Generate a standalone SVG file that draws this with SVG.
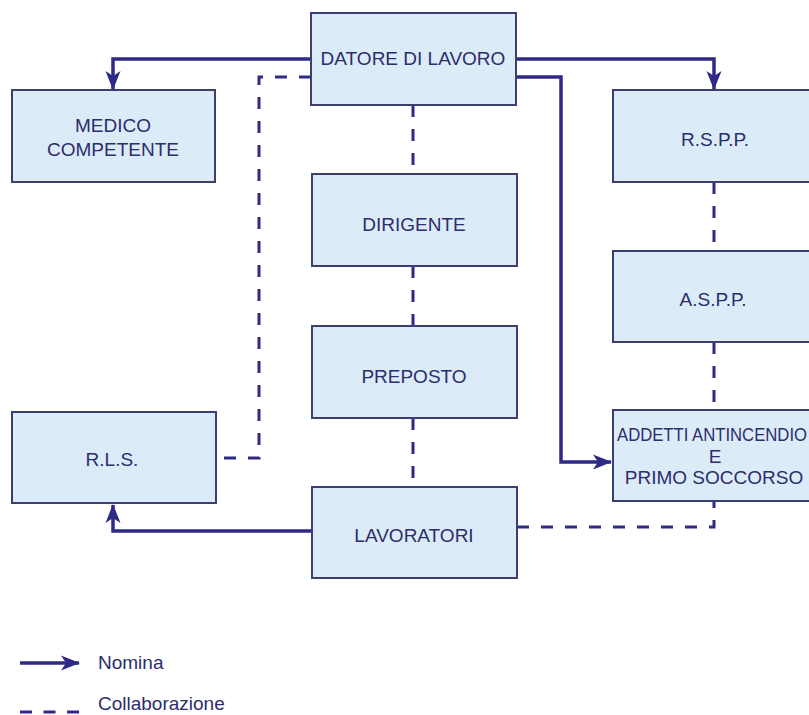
<svg xmlns="http://www.w3.org/2000/svg" width="809" height="715" viewBox="0 0 809 715">
<style>
.box{fill:#dcebf8;stroke:#3d3f70;stroke-width:2}
.lbl{font-family:"Liberation Sans",Arial,sans-serif;font-size:19px;fill:#2c2d6c;text-anchor:middle}
.sol{fill:none;stroke:#2e2a86;stroke-width:3.5}
.dash{fill:none;stroke:#2e2a86;stroke-width:3;stroke-dasharray:12 12}
</style>
<defs>
<marker id="arr" markerUnits="userSpaceOnUse" markerWidth="24" markerHeight="20" viewBox="-20 -10 22 20" refX="0" refY="0" orient="auto">
<path d="M1,0 L-18,-7.5 L-13,0 L-18,7.5 Z" fill="#2e2a86"/>
</marker>
</defs>
<rect width="809" height="715" fill="#ffffff"/>
<g id="connectors">
<polyline class="sol" points="311,59 113,59 113,89" marker-end="url(#arr)"/>
<polyline class="sol" points="516,59 714,59 714,89" marker-end="url(#arr)"/>
<polyline class="sol" points="516,77 561,77 561,462 611,462" marker-end="url(#arr)"/>
<polyline class="sol" points="312,531 113,531 113,505" marker-end="url(#arr)"/>
<polyline class="dash" points="311,77 259,77 259,458 216,458"/>
<line class="dash" x1="413" y1="105" x2="413" y2="174"/>
<line class="dash" x1="413" y1="266" x2="413" y2="326"/>
<line class="dash" x1="413" y1="418" x2="413" y2="487"/>
<line class="dash" x1="714" y1="182" x2="714" y2="251"/>
<line class="dash" x1="714" y1="342" x2="714" y2="410"/>
<polyline class="dash" points="517,527 714,527 714,501"/>
</g>
<g id="datore"><rect class="box" x="311" y="13" width="205" height="92"/><text class="lbl" x="413" y="65">DATORE DI LAVORO</text></g>
<g id="medico"><rect class="box" x="12" y="90" width="203" height="92"/><text class="lbl" x="113" y="132">MEDICO</text><text class="lbl" x="113" y="156">COMPETENTE</text></g>
<g id="rspp"><rect class="box" x="613" y="90" width="200" height="92"/><text class="lbl" x="715" y="146">R.S.P.P.</text></g>
<g id="dirigente"><rect class="box" x="312" y="174" width="205" height="92"/><text class="lbl" x="414" y="231">DIRIGENTE</text></g>
<g id="aspp"><rect class="box" x="613" y="251" width="200" height="91"/><text class="lbl" x="713" y="306">A.S.P.P.</text></g>
<g id="preposto"><rect class="box" x="312" y="326" width="205" height="92"/><text class="lbl" x="414" y="383">PREPOSTO</text></g>
<g id="rls"><rect class="box" x="12" y="412" width="204" height="91"/><text class="lbl" x="112" y="466">R.L.S.</text></g>
<g id="addetti"><rect class="box" x="613" y="410" width="200" height="91"/><text class="lbl" x="617" y="441" style="text-anchor:start" textLength="190" lengthAdjust="spacingAndGlyphs">ADDETTI ANTINCENDIO</text><text class="lbl" x="715" y="463">E</text><text class="lbl" x="714" y="484">PRIMO SOCCORSO</text></g>
<g id="lavoratori"><rect class="box" x="312" y="487" width="205" height="91"/><text class="lbl" x="414" y="542">LAVORATORI</text></g>
<g id="legend">
<line class="sol" x1="20" y1="663" x2="79" y2="663" marker-end="url(#arr)"/>
<text class="lbl" x="98" y="669" style="text-anchor:start">Nomina</text>
<line class="dash" x1="20" y1="712" x2="80" y2="712" style="stroke-dasharray:12 11.5"/>
<text class="lbl" x="98" y="710" style="text-anchor:start">Collaborazione</text>
</g>
</svg>
